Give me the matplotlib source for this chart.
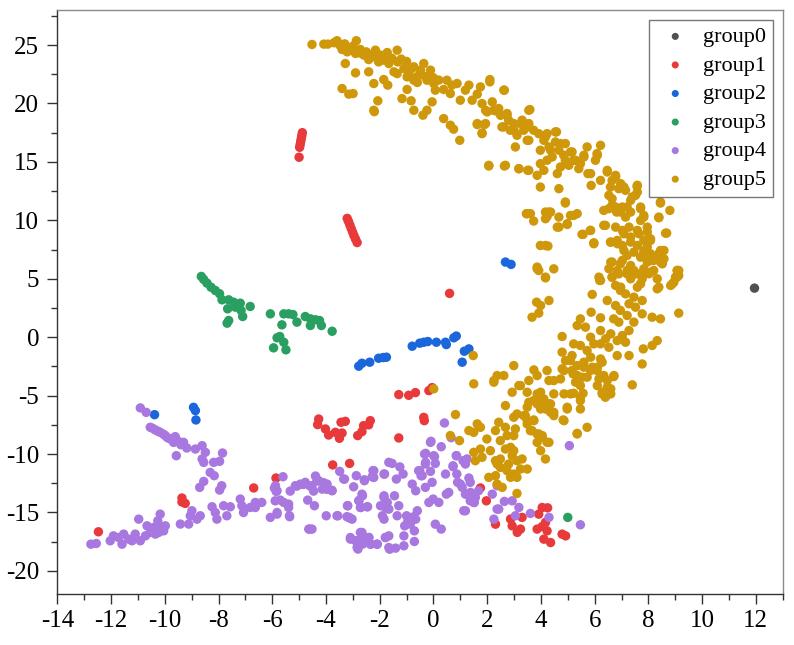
import matplotlib
matplotlib.use("Agg")
import matplotlib.pyplot as plt
from matplotlib.ticker import MultipleLocator

plt.rcParams['font.family'] = ['Liberation Serif', 'DejaVu Serif']
plt.rcParams['axes.unicode_minus'] = False

group_names = ["group0", "group1", "group2", "group3", "group4", "group5"]
group_colors = ["#505050", "#e8393b", "#1a66da", "#2a9f62", "#a877df", "#cf980b"]

g0 = [(11.95, 4.2)]

g1 = [(-4.88,17.5),(-4.9,17.25),(-4.92,17.0),(-4.94,16.75),(-4.96,16.5),(-4.98,16.25),(-5.0,15.4),
      (-3.21,10.17),(-3.16,9.9),(-3.11,9.6),(-3.06,9.3),(-3.01,9.0),(-2.96,8.7),(-2.9,8.4),(-2.84,8.1),
      (0.6,3.75),
      (-1.29,-4.91),(-0.92,-4.97),(-0.67,-4.74),(-0.17,-4.57),(-0.05,-4.31),
      (-4.27,-7.0),(-4.31,-7.48),(-4.02,-7.85),(-3.9,-8.37),(-3.65,-8.14),(-3.5,-8.65),(-3.4,-8.2),
      (-3.44,-7.28),(-3.28,-7.2),(-2.82,-8.42),(-2.66,-8.08),(-2.6,-7.57),(-2.35,-7.14),(-2.41,-7.5),
      (-0.36,-6.86),(-0.34,-7.14),(-1.29,-8.62),
      (-3.75,-10.93),(-3.12,-10.8),(-5.86,-12.05),(-6.69,-12.9),(-9.36,-13.76),(-9.24,-14.22),
      (-9.36,-14.1),(-12.47,-16.65),
      (1.97,-14.0),(1.75,-12.9),
      (2.31,-16.0),(2.87,-15.56),(2.93,-16.14),(3.24,-16.42),(3.3,-15.42),(3.12,-16.7),(3.86,-16.42),
      (3.92,-15.14),(4.05,-14.57),(4.17,-15.85),(4.11,-17.28),(4.36,-17.57),(4.23,-16.57),(4.79,-16.85),
      (4.92,-17.0),(4.05,-16.2),(4.25,-14.6)]

g2 = [(2.68,6.43),(2.89,6.23),
      (-2.78,-2.48),(-2.66,-2.23),(-2.37,-2.14),(-2.04,-1.8),(-1.87,-1.74),(-1.75,-1.71),(-0.79,-0.77),
      (-0.51,-0.51),(-0.36,-0.43),(-0.21,-0.37),(0.11,-0.43),(0.45,-0.43),(0.48,-0.63),(0.76,-0.05),
      (0.85,0.1),(1.15,-1.2),(1.32,-1.0),(1.07,-2.14),
      (-10.38,-6.63),(-8.93,-6.0),(-8.86,-6.28),(-8.84,-7.08)]

g3 = [(-8.64,5.2),(-8.55,4.94),(-8.43,4.63),(-8.28,4.28),(-8.12,4.0),(-7.96,3.72),(-7.87,3.2),
      (-7.62,3.2),(-7.44,3.0),(-7.19,2.91),(-7.37,2.57),(-7.16,2.29),(-6.82,2.63),(-7.66,2.43),
      (-7.1,1.77),(-7.68,1.2),(-7.62,1.43),
      (-6.07,2.0),(-5.57,2.0),(-5.39,2.0),(-5.23,1.94),(-4.77,1.77),(-4.58,1.57),(-4.39,1.49),
      (-4.58,1.0),(-4.17,1.0),(-3.77,0.51),(-5.08,1.29),(-5.64,1.06),(-5.72,0.06),(-5.82,-0.05),
      (-5.57,-0.43),(-5.49,-1.08),(-5.95,-0.91),(-4.24,1.43),
      (5.0,-15.42)]

g4 = [(-10.91,-6.05),(-10.69,-6.43),(-10.54,-7.71),(-10.35,-7.94),(-10.17,-8.14),(-9.98,-8.42),
      (-9.79,-8.71),(-9.61,-8.51),(-9.67,-9.0),(-9.3,-9.0),(-9.18,-9.48),(-8.86,-9.57),(-8.61,-9.28),
      (-8.49,-9.85),(-8.61,-10.42),(-8.55,-10.71),(-9.57,-10.14),(-7.85,-9.91),(-8.18,-10.71),
      (-7.96,-10.62),(-8.31,-11.57),(-8.16,-11.85),(-8.55,-12.34),(-8.7,-12.85),(-7.88,-12.71),
      (-7.96,-13.08),(-8.99,-14.85),(-9.05,-15.28),(-8.68,-15.28),(-8.8,-15.57),(-9.11,-15.99),
      (-9.42,-15.99),(-8.24,-14.51),(-8.12,-15.0),(-8.06,-15.57),(-7.81,-14.42),(-7.56,-14.51),
      (-7.69,-15.28),(-7.19,-13.85),(-7.13,-14.42),(-7.07,-15.0),(-6.82,-14.57),(-6.63,-14.14),
      (-6.39,-14.14),(-6.63,-14.57),(-6.07,-15.42),(-5.82,-15.14),(-5.89,-14.0),(-5.7,-13.94),
      (-5.39,-14.57),(-5.57,-14.14),(-5.92,-12.91),(-5.85,-13.2),(-5.6,-11.94),(-5.36,-15.28),
      (-5.33,-13.17),(-5.08,-12.74),(-4.84,-12.6),(-4.59,-12.74),(-4.39,-11.88),(-4.34,-12.31),
      (-4.09,-12.45),(-3.96,-13.02),(-3.78,-13.1),(-4.46,-13.17),(-4.68,-13.94),(-4.43,-14.42),
      (-4.64,-16.42),(-4.52,-16.42),(-3.99,-15.28),(-3.59,-15.28),(-3.19,-14.42),(-3.15,-15.42),
      (-3.03,-15.57),(-3.49,-11.48),(-3.34,-12.14),(-2.97,-12.8),(-2.87,-11.85),(-2.57,-12.2),
      (-2.22,-11.42),(-2.28,-11.94),(-1.84,-11.71),(-2.77,-13.99),(-2.7,-14.57),(-2.45,-14.51),
      (-2.64,-13.56),(-1.97,-14.42),(-1.84,-13.71),(-1.78,-14.57),(-1.9,-15.28),(-1.84,-15.57),
      (-1.66,-10.71),(-3.09,-17.14),(-2.9,-17.42),(-2.72,-16.71),(-2.59,-17.28),(-2.81,-18.13),
      (-2.64,-17.71),(-2.4,-17.14),(-2.33,-17.71),(-2.09,-17.71),(-1.78,-17.14),(-1.66,-18.0),
      (-12.75,-17.71),(-12.55,-17.65),(-12.03,-17.42),(-11.91,-17.0),(-11.72,-17.14),(-11.59,-17.71),
      (-11.53,-16.85),(-11.34,-17.28),(-11.22,-17.42),(-11.1,-16.85),(-10.97,-15.57),(-10.91,-17.42),
      (-10.72,-17.0),(-10.66,-16.14),(-10.54,-16.71),(-10.41,-16.28),(-10.35,-16.85),(-10.26,-15.71),
      (-10.17,-15.14),(-10.17,-16.28),(-10.04,-16.57),(-9.98,-16.14),(-10.23,-16.71),
      (-10.45,-7.8),(-10.25,-8.05),(-10.05,-8.3),(-9.9,-8.6),(-9.5,-8.9),(-9.4,-9.2),
      (-5.82,-15.0),(-5.88,-12.71),(-5.82,-13.14),(-5.39,-14.28),(-5.35,-15.36),(-5.14,-12.71),
      (-4.95,-12.57),(-4.77,-12.42),(-4.52,-12.71),(-4.27,-12.28),(-4.14,-13.0),(-3.96,-12.57),
      (-3.77,-13.14),(-4.61,-16.42),(-3.56,-15.28),(-3.31,-12.14),(-3.2,-14.42),(-3.22,-15.36),
      (-3.1,-15.48),(-2.57,-12.28),(-3.09,-17.28),(-2.84,-17.99),(-2.81,-17.42),(-2.66,-16.71),
      (-2.62,-17.28),(-2.41,-17.14),(-2.35,-17.71),(-2.1,-17.71),(-2.66,-13.43),(-2.78,-13.99),
      (-2.72,-14.57),(-2.47,-14.51),(-2.25,-11.42),(-2.22,-12.0),(-1.82,-11.71),(-1.84,-13.57),
      (-1.72,-14.14),(-1.54,-10.8),(-1.25,-11.1),(-1.13,-11.71),(-1.38,-12.14),(-1.45,-13.57),
      (-1.66,-14.71),(-1.29,-14.42),(-1.35,-15.28),(-1.79,-17.14),(-1.66,-17.0),(-1.63,-18.14),
      (-1.41,-18.05),(-1.1,-17.85),(-1.1,-17.0),(-0.71,-17.48),(-0.71,-16.57),(-0.86,-16.0),
      (-0.95,-15.71),(-1.07,-16.14),(-1.0,-15.28),(-0.73,-15.36),(-0.6,-14.85),(-0.66,-15.57),
      (-0.79,-12.57),(-0.66,-13.14),(-0.51,-11.42),(-0.46,-11.85),(-0.3,-10.85),(-0.33,-10.0),
      (-0.11,-9.0),(0.01,-10.14),(0.07,-10.8),(-0.11,-11.48),(-0.05,-12.42),(-0.3,-12.85),
      (-0.17,-14.14),(-0.01,-13.85),(0.2,-14.14),(0.07,-16.0),(0.29,-16.42),(0.29,-9.37),
      (0.45,-11.71),(0.57,-13.28),(0.48,-13.43),(0.73,-11.0),(0.85,-10.14),(0.87,-11.71),
      (0.9,-12.42),(1.07,-12.85),(1.13,-14.85),(1.19,-10.85),(1.25,-13.43),(1.37,-14.0),
      (1.52,-14.14),(1.37,-12.42),(1.68,-13.14),(2.37,-14.71),(2.25,-15.57),
      (0.41,-7.34),(-0.29,-9.94),(0.04,-10.22),(-0.29,-10.71),(-0.55,-11.42),(-0.42,-11.85),
      (0.86,-10.14),(0.73,-11.08),(1.1,-10.57),(1.25,-10.42),(1.0,-12.57),(1.32,-12.05),
      (1.38,-13.28),(1.19,-13.43),(1.56,-13.71),(1.5,-14.14),(1.19,-14.85),(2.19,-13.43),
      (2.37,-12.71),(2.43,-14.71),(2.64,-14.05),(2.93,-14.0),(3.05,-15.28),(3.18,-14.57),
      (3.61,-15.08),(4.3,-15.42),(5.47,-16.05),(5.06,-9.28),(0.66,-8.6),(-0.09,-8.91)]

g5 = [(-4.52,25.05),(-4.08,25.08),(-3.93,25.08),(-3.59,25.37),(-3.49,25.0),(-3.4,24.62),(-3.28,24.85),
      (-3.21,24.42),(-3.09,24.71),(-2.87,25.37),(-2.9,24.28),(-2.72,24.62),(-2.59,24.14),(-2.5,24.42),
      (-2.41,23.76),(-2.28,23.99),(-2.16,24.56),(-2.04,23.56),(-1.97,24.14),(-1.85,23.71),(-1.72,24.36),
      (-1.66,23.42),(-1.54,23.85),(-1.35,24.56),(-1.33,23.56),(-1.47,22.71),(-1.35,22.56),(-3.28,23.42),
      (-2.9,22.62),(-3.4,21.28),(-3.15,20.8),(-2.99,20.85),(-2.41,22.71),(-2.22,21.71),(-1.85,22.05),
      (-1.7,21.57),(-2.07,20.23),(-2.22,19.42),(-2.2,19.3),(-1.17,20.42),(-0.98,21.2),(-0.83,20.23),
      (-0.73,19.42),(-0.39,19.0),(-0.24,19.42),(-0.05,20.14),(-1.1,22.99),(-0.92,22.56),(-0.98,23.28),
      (-0.73,23.14),(-0.61,22.28),(-0.48,22.85),(-0.36,23.42),(-0.24,21.99),(-0.11,22.85),(0.01,21.71),
      (0.07,21.14),(-0.73,21.99),(-0.98,22.28),(0.38,18.71),(0.63,18.14),(0.75,17.8),(0.98,16.85),
      (0.38,21.2),(0.5,21.99),(0.63,20.85),(0.69,21.57),(0.88,21.71),(1.0,20.28),(1.19,21.14),
      (1.32,21.57),(1.44,20.28),(1.63,20.8),(1.75,21.42),(1.81,19.99),(2.1,22.05),(1.94,19.42),
      (2.24,19.42),(2.43,19.57),(2.64,21.14),(1.63,18.2),(1.9,18.2),(1.81,17.42),(2.55,17.99),
      (2.74,19.0),(2.86,17.71),(2.99,18.28),(3.11,17.28),(3.3,18.57),(3.49,17.99),(3.05,16.28),
      (3.49,16.85),(3.55,19.42),(2.06,14.65),(2.64,14.65),(3.18,14.42),(3.51,14.28),(3.46,10.57),
      (-3.7,25.2),(-3.3,25.1),(-3.0,24.9),(-2.7,24.3),(-2.4,24.2),(-2.0,23.9),(-1.6,23.9),(-1.2,23.8),
      (-1.0,23.6),(-0.8,23.0),(-0.5,22.5),(-0.3,22.3),(0.0,22.2),(0.2,22.0),(-0.6,21.8),
      (2.1,21.85),(2.62,21.14),(1.63,18.28),(1.81,17.48),(1.94,18.28),(2.0,19.28),(2.19,20.14),
      (2.31,19.37),(2.5,18.99),(2.74,19.14),(2.8,18.57),(2.62,18.0),(3.0,17.71),(3.24,18.28),
      (3.36,17.71),(3.55,18.28),(3.59,19.48),(3.73,17.71),(3.55,16.85),(3.92,17.42),(3.98,16.0),
      (4.11,16.85),(4.23,17.42),(4.3,16.28),(4.42,15.42),(4.54,16.71),(4.58,17.57),(4.67,16.0),
      (4.85,15.57),(4.91,16.57),(5.04,14.71),(5.16,15.85),(5.29,15.14),(5.41,14.42),(5.6,15.42),
      (5.72,16.28),(5.75,14.0),(5.87,12.99),(6.03,15.14),(6.09,15.71),(6.22,16.42),(6.22,13.42),
      (6.47,14.14),(6.53,12.14),(6.65,13.42),(6.78,13.71),(6.9,12.71),(7.09,12.85),(7.58,12.9),
      (6.53,11.0),(6.65,11.28),(6.82,10.71),(7.03,11.14),(7.15,10.28),(7.34,11.71),(7.52,12.14),
      (7.71,11.0),(7.83,10.28),(7.96,9.42),(8.08,8.28),(7.65,8.85),(7.34,8.57),(7.03,9.14),
      (6.6,8.14),(6.85,8.0),(7.09,7.42),(7.46,7.28),(7.71,6.85),(7.83,7.42),(8.02,7.14),(8.14,6.57),
      (8.39,7.14),(8.45,6.43),(8.58,7.42),(8.68,8.91),(8.45,11.48),(8.8,10.85),(8.39,10.28),
      (9.07,5.71),(9.13,5.28),(7.46,5.71),(7.21,5.42),(6.9,5.42),(6.6,6.42),(6.34,9.57),(5.84,9.14),
      (5.57,8.8),(5.97,8.08),(4.91,11.48),(5.1,10.42),(5.35,10.57),(4.67,9.42),(4.98,9.65),
      (4.36,10.71),(4.23,10.33),(4.17,10.71),(3.49,10.57),(3.61,10.57),(3.73,9.94),(3.98,7.85),
      (4.26,7.8),(3.86,6.0),(3.92,5.71),(4.48,5.85),(4.17,5.14),(3.98,12.85),(4.67,12.71),(4.61,14.0),
      (3.86,13.85),(3.55,14.28),(3.18,14.42),(2.68,14.71),(2.06,14.71),(3.98,14.85),(6.16,5.14),
      (6.1,15.57),(5.85,14.0),(6.47,14.28),(6.78,13.85),(6.59,12.85),(6.97,13.14),(7.15,12.57),
      (7.4,12.0),(7.59,13.0),(7.59,12.42),(6.65,11.85),(6.78,11.14),(6.34,10.85),(6.97,10.71),
      (7.21,11.14),(7.34,10.71),(7.71,11.14),(7.83,10.42),(7.71,9.99),(8.45,11.57),(8.39,10.22),
      (8.64,8.9),(7.96,9.0),(7.59,9.14),(7.28,9.42),(7.09,8.85),(6.78,9.42),(6.4,9.57),(6.84,8.28),
      (6.59,8.14),(7.03,7.85),(7.34,8.14),(7.59,7.85),(7.83,8.28),(8.08,8.42),(7.96,7.71),(7.83,7.14),
      (8.08,7.14),(8.45,7.42),(8.58,6.71),(8.2,6.57),(7.21,7.0),(7.03,6.57),(6.65,6.43),(6.84,5.71),
      (7.34,6.14),(7.53,5.42),(7.83,5.85),(8.08,5.57),(7.77,5.0),(8.39,4.28),(8.89,4.57),(9.08,5.71),
      (9.01,5.14),(6.22,4.86),(6.65,5.14),(6.97,4.28),(5.22,10.42),(5.85,9.14),(5.53,8.8),(5.97,8.0),
      (4.98,9.71),(4.61,9.42),(4.67,10.28),(4.29,10.71),(4.17,10.14),(4.91,11.57),(4.17,7.85),
      (4.11,14.28),(4.17,17.14),(4.54,17.57),(4.73,16.57),(5.1,15.85),(5.22,15.14),(5.47,14.85),
      (5.6,15.57),(4.91,15.14),(4.36,16.0),(4.23,15.14),(4.73,14.57),
      (3.86,5.86),(4.17,5.08),(3.84,3.0),(3.99,2.71),(4.3,3.14),(3.67,1.71),(3.92,2.06),(6.19,4.86),
      (5.91,3.66),(6.53,5.86),(6.65,5.14),(6.78,4.43),(6.96,4.0),(7.15,3.71),(7.28,2.86),(7.46,3.43),
      (7.52,2.57),(7.77,3.14),(6.47,3.14),(6.78,2.71),(6.96,2.29),(6.9,1.29),(5.87,2.14),(6.22,1.66),
      (6.71,1.57),(7.21,1.86),(7.46,1.29),(7.28,0.57),(7.77,2.0),(8.14,1.71),(8.45,1.57),(9.13,2.06),
      (8.33,4.14),(8.33,5.0),(8.02,5.43),(8.2,5.71),(7.71,5.43),(7.59,4.28),(7.71,4.57),(7.34,5.0),
      (7.21,5.71),(8.83,4.43),(8.95,4.71),(9.13,5.71),(9.07,5.14),(7.96,6.43),(8.52,6.28),(6.96,6.28),
      (5.47,1.57),(5.35,1.0),(5.66,0.86),(5.85,0.0),(6.22,0.57),(6.41,-0.14),(6.53,-0.86),(6.22,-0.57),
      (6.6,0.29),(6.84,-0.29),(7.03,0.14),(7.15,-0.43),(6.84,-1.57),(7.28,-1.57),(7.77,-2.29),
      (7.81,-1.0),(8.14,-0.71),(8.33,-0.29),(7.4,-4.08),(6.71,-3.37),(6.47,-4.28),(6.28,-4.85),
      (6.4,-5.14),(6.16,-3.57),(5.91,-2.57),(6.22,-1.86),(5.85,-1.71),(6.09,-2.85),(5.54,-3.43),
      (5.47,-4.14),(5.47,-5.14),(5.57,-4.8),(5.22,-4.8),(4.98,-6.0),(4.83,-7.08),(5.35,-8.23),
      (5.72,-7.71),(5.6,-2.57),(5.22,-0.57),(5.47,-0.71),(5.1,-2.0),(4.86,-2.85),(4.92,-2.0),
      (5.16,-2.85),(5.29,-3.85),(5.35,-3.28),(4.79,0.06),(4.79,-1.28),(5.16,-1.57),(5.72,-1.14),
      (5.97,-0.57),(4.48,-3.71),(4.23,-2.85),(4.48,-4.85),(3.99,-4.71),(4.05,-5.42),(4.36,-5.71),
      (4.48,-6.43),(4.17,-6.14),(3.73,-5.42),(3.55,-5.57),(3.42,-6.71),(3.49,-7.43),(3.73,-7.08),
      (3.61,-8.0),(3.92,-8.28),(4.05,-8.57),(3.86,-9.0),(4.3,-9.0),(3.99,-9.71),(3.24,-4.14),
      (0.01,-4.42),(0.82,-6.62),(0.63,-8.42),(0.97,-8.85),(1.5,-3.99),(2.25,-3.71),(2.37,-3.28),
      (2.62,-3.28),(2.99,-2.43),(3.18,-4.14),(2.93,-4.71),(2.68,-5.85),(3.74,-2.8),(3.86,-3.28),
      (4.79,-2.71),(4.92,-2.0),(5.2,-3.14),(5.35,-2.43),(5.6,-2.14),(5.85,-2.85),(6.1,-2.57),
      (6.28,-2.14),(6.34,-3.28),(6.47,-3.71),(6.28,-4.71),(6.72,-3.28),(6.6,-4.42),(5.35,-8.28),
      (5.47,-5.42),(5.47,-6.14),(4.98,-6.14),(4.86,-7.14),(4.48,-6.71),(4.3,-5.71),(4.11,-5.28),
      (3.86,-5.71),(3.49,-5.99),(3.99,-6.14),(4.36,-6.42),(3.36,-6.71),(3.11,-6.57),(2.99,-6.85),
      (3.49,-7.14),(3.74,-7.14),(3.67,-7.99),(3.86,-8.28),(4.05,-8.42),(4.23,-8.99),(4.17,-10.42),
      (2.43,-7.28),(2.68,-7.71),(1.63,-7.42),(1.75,-7.71),(1.32,-7.99),(1.5,-8.14),(1.99,-8.71),
      (2.31,-7.99),(2.49,-8.85),(2.74,-8.42),(2.99,-8.42),(3.05,-7.85),(2.87,-9.42),(2.99,-9.71),
      (2.68,-9.57),(2.12,-9.71),(1.75,-9.57),(1.5,-9.85),(1.81,-10.28),(1.56,-10.57),(2.31,-10.57),
      (2.49,-10.42),(2.37,-10.85),(2.8,-10.85),(2.93,-10.14),(3.11,-10.57),(3.3,-10.42),(3.24,-11.28),
      (2.99,-11.71),(2.87,-11.99),(3.11,-11.99),(2.74,-11.42),(2.49,-11.14),(2.31,-11.85),
      (2.06,-11.99),(2.37,-12.57),(2.56,-12.85),(3.11,-13.37),(3.49,-11.28),(3.49,-4.71),(4.3,-3.71),
      (4.73,-3.57),(4.86,-4.85),(5.35,-3.85),(5.72,-3.42),(6.1,-4.14),(6.6,-4.85),(5.1,-4.85),
      (3.86,-4.85),(3.55,-3.71),(1.48,-1.57),(2.25,-3.85)]

groups = [g0, g1, g2, g3, g4, g5]

fig = plt.figure(figsize=(7.94, 6.45), dpi=100)
ax = fig.add_axes([57.3/794, 1 - 594.3/645, (782.7-57.3)/794, (594.3-10)/645])

for name, color, pts in zip(group_names, group_colors, groups):
    xs = [p[0] for p in pts]
    ys = [p[1] for p in pts]
    ax.scatter(xs, ys, s=46, c=color, edgecolors='none', label=name)

ax.set_xlim(-14, 13)
ax.set_ylim(-22, 28)
ax.xaxis.set_minor_locator(MultipleLocator(1))
ax.yaxis.set_minor_locator(MultipleLocator(2.5))
ax.set_xticks(range(-14, 13, 2))
ax.set_yticks(range(-20, 26, 5))

ax.tick_params(axis='both', which='major', direction='out', length=7, width=1,
               labelsize=18, color='#333333')
ax.tick_params(axis='both', which='minor', direction='out', length=4, width=1, color='#333333')
ax.tick_params(axis='x', which='major', pad=4)
ax.tick_params(axis='y', which='major', pad=6)

for side in ['left', 'bottom']:
    ax.spines[side].set_color('#333333')
    ax.spines[side].set_linewidth(1.0)
for side in ['top', 'right']:
    ax.spines[side].set_color('#8a8a8a')
    ax.spines[side].set_linewidth(1.0)

leg = ax.legend(loc='upper right', fontsize=16, frameon=True, fancybox=False,
                edgecolor='#555555', borderaxespad=0.45, borderpad=0.3,
                labelspacing=0.36, handlelength=1.8, handletextpad=0.35, markerscale=0.75)
leg.get_frame().set_linewidth(1.0)

fig.savefig("out.png", dpi=100)
